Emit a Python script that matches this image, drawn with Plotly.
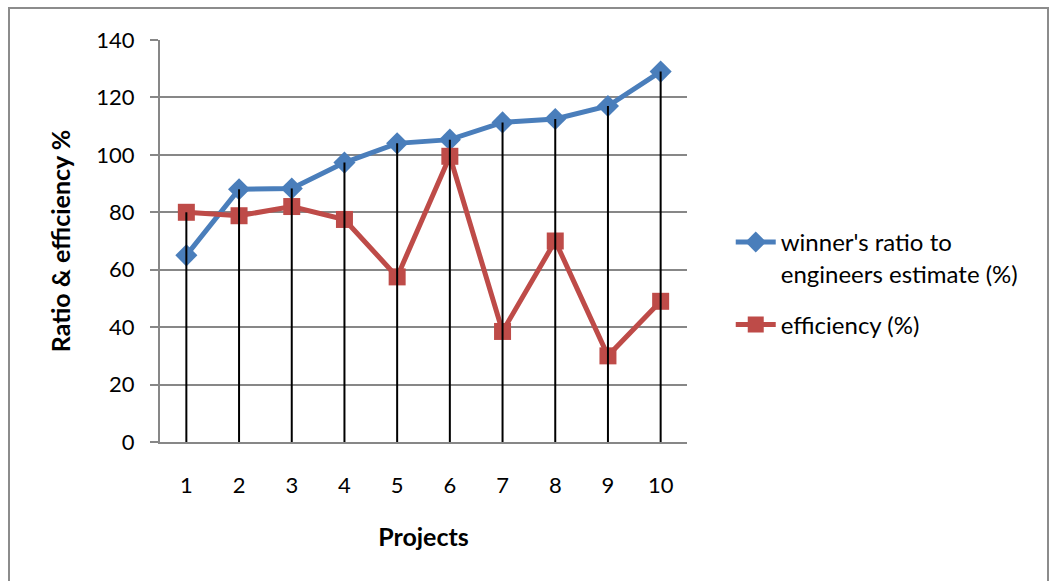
import plotly.graph_objects as go

projects = [1, 2, 3, 4, 5, 6, 7, 8, 9, 10]
ratio = [65, 88, 88.3, 97.3, 104, 105.3, 111.3, 112.5, 117, 129]
efficiency = [80, 78.8, 82, 77.5, 57.5, 99.5, 38.5, 70, 30, 49]

BLUE = "#4A7EBB"
RED = "#BE4B48"
GRID = "#878787"
FONT = "Lato"

# drop lines from highest point of each category down to the axis
drop_x, drop_y = [], []
for p, a, b in zip(projects, ratio, efficiency):
    drop_x += [p, p, None]
    drop_y += [0, max(a, b), None]

fig = go.Figure()
fig.add_trace(go.Scatter(
    x=projects, y=ratio, mode="lines+markers",
    name="winner's ratio to<br>engineers estimate (%)", legendgroup="a",
    line=dict(color=BLUE, width=5),
    marker=dict(symbol="diamond", size=17, color=BLUE),
))
fig.add_trace(go.Scatter(
    x=projects, y=efficiency, mode="lines+markers",
    name="efficiency (%)", legendgroup="b",
    line=dict(color=RED, width=5),
    marker=dict(symbol="square", size=17, color=RED),
))
fig.add_trace(go.Scatter(
    x=drop_x, y=drop_y, mode="lines", showlegend=False,
    line=dict(color="black", width=2), hoverinfo="skip",
))

fig.update_layout(
    width=1052, height=581,
    margin=dict(l=160, r=365, t=40, b=139),
    paper_bgcolor="white", plot_bgcolor="white",
    font=dict(family=FONT, size=22, color="black"),
    showlegend=True,
    legend=dict(
        x=1.083, y=0.5525, xanchor="left", yanchor="top",
        font=dict(family=FONT, size=24, color="black"),
        valign="top", traceorder="grouped", tracegroupgap=17, itemwidth=40,
        bgcolor="rgba(0,0,0,0)",
    ),
    xaxis=dict(
        range=[0.5, 10.5], tickmode="array", tickvals=projects,
        ticktext=[str(p) for p in projects],
        showgrid=False, zeroline=False, showline=True,
        linecolor=GRID, linewidth=2, ticks="", ticklabelstandoff=23,
        tickfont=dict(family=FONT, size=22),
        title=dict(text="<b>Projects</b>", font=dict(family=FONT, size=25), standoff=31),
    ),
    yaxis=dict(
        range=[0, 140], dtick=20, showgrid=True, gridcolor=GRID, gridwidth=1.6,
        zeroline=False, showline=True, linecolor=GRID, linewidth=2,
        ticks="outside", ticklen=8, tickcolor=GRID, tickwidth=1.6,
        ticklabelstandoff=11,
        tickfont=dict(family=FONT, size=22),
        title=dict(text="<b>Ratio & efficiency %</b>", font=dict(family=FONT, size=25), standoff=19),
    ),
    shapes=[dict(
        type="rect", xref="paper", yref="paper",
        x0=(9 - 160) / 527, x1=(1048 - 160) / 527,
        y0=-0.5, y1=(442 - 8) / 402,
        line=dict(color="#8C8C8C", width=2), fillcolor="rgba(0,0,0,0)", layer="below",
    )],
)

fig.write_html("out.html")
